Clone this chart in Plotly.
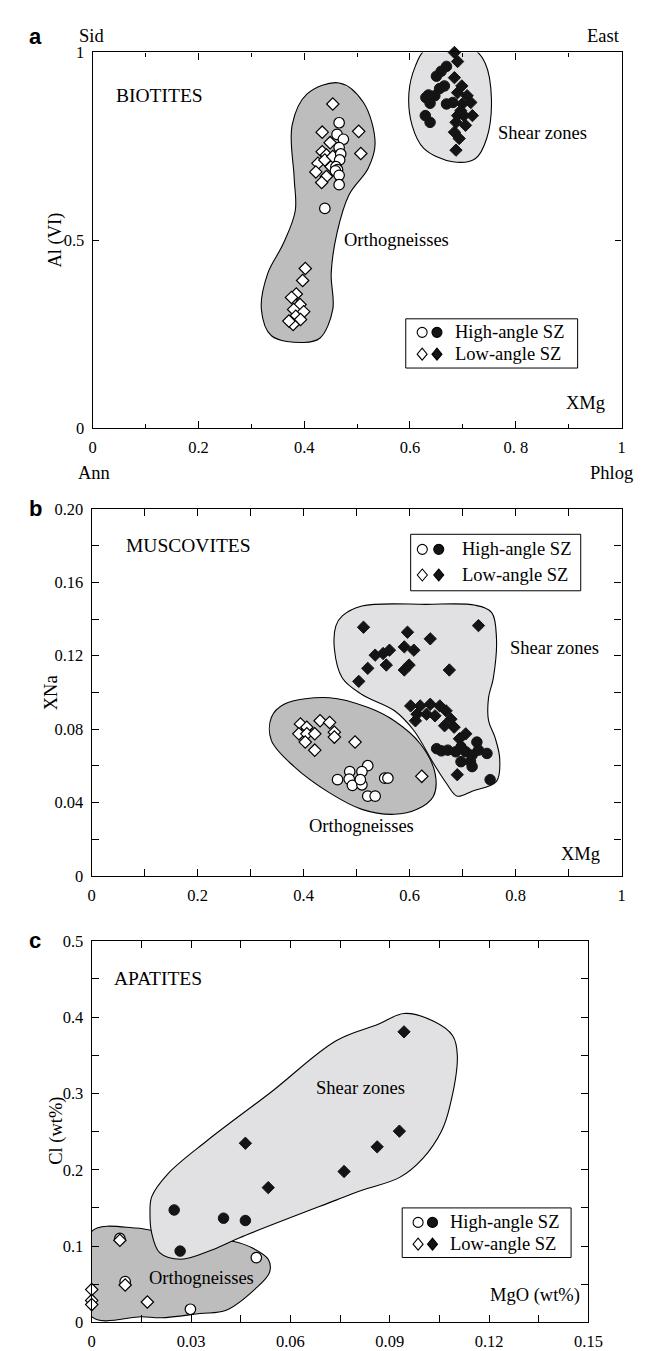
import plotly.graph_objects as go

W, H = 646, 1351
SERIF = "Liberation Serif"
INK = "#141414"

# ---------------- data: panel a (biotites) ----------------
a_xtickvals = [0, 0.2, 0.4, 0.6, 0.8, 1]
a_xticktext = ["0", "0.2", "0.4", "0.6", "0. 8", "1"]
a_ytickvals = [0, 0.5, 1]
a_yticktext = ["0", "0.5", "1"]

a_orth_circ_x = [0.466, 0.462, 0.474, 0.466, 0.469, 0.467, 0.460, 0.463, 0.459, 0.466, 0.466, 0.439]
a_orth_circ_y = [0.813, 0.782, 0.769, 0.747, 0.730, 0.714, 0.696, 0.688, 0.685, 0.673, 0.648, 0.585]
a_orth_diam_x = [0.454, 0.434, 0.503, 0.507, 0.449, 0.434, 0.442, 0.426, 0.439, 0.422, 0.442, 0.433, 0.451, 0.454,
                 0.402, 0.397, 0.385, 0.376, 0.392, 0.380, 0.399, 0.384, 0.393, 0.374, 0.379, 0.371]
a_orth_diam_y = [0.863, 0.788, 0.790, 0.731, 0.760, 0.736, 0.727, 0.705, 0.714, 0.682, 0.670, 0.654, 0.696, 0.723,
                 0.425, 0.393, 0.357, 0.348, 0.329, 0.316, 0.310, 0.298, 0.289, 0.283, 0.276, 0.285]
a_sz_circ_x = [0.669, 0.659, 0.650, 0.665, 0.656, 0.635, 0.630, 0.647, 0.638, 0.669, 0.629, 0.638, 0.681]
a_sz_circ_y = [0.963, 0.950, 0.937, 0.911, 0.904, 0.887, 0.880, 0.885, 0.865, 0.863, 0.832, 0.814, 0.867]
a_sz_diam_x = [0.684, 0.690, 0.684, 0.698, 0.690, 0.708, 0.715, 0.699, 0.718, 0.702, 0.690, 0.705, 0.687, 0.684,
               0.693, 0.687, 0.696]
a_sz_diam_y = [1.000, 0.976, 0.933, 0.911, 0.893, 0.885, 0.867, 0.863, 0.832, 0.832, 0.832, 0.806, 0.814, 0.788,
               0.771, 0.740, 0.845]
a_orth_env_x = [0.466, 0.512, 0.534, 0.521, 0.485, 0.462, 0.451, 0.454, 0.430, 0.399, 0.338, 0.319, 0.331, 0.360,
                0.383, 0.381, 0.377, 0.405, 0.466]
a_orth_env_y = [0.919, 0.867, 0.758, 0.692, 0.622, 0.520, 0.412, 0.316, 0.240, 0.228, 0.246, 0.316, 0.412, 0.490,
                0.578, 0.666, 0.806, 0.889, 0.919]
a_sz_env_x = [0.675, 0.721, 0.742, 0.754, 0.745, 0.724, 0.681, 0.626, 0.604, 0.598, 0.610, 0.629, 0.675]
a_sz_env_y = [1.007, 1.007, 0.972, 0.876, 0.771, 0.718, 0.709, 0.745, 0.806, 0.893, 0.963, 1.007, 1.007]

# ---------------- data: panel b (muscovites) ----------------
b_xtickvals = [0, 0.2, 0.4, 0.6, 0.8, 1]
b_xticktext = ["0", "0.2", "0.4", "0.6", "0.8", "1"]
b_ytickvals = [0, 0.04, 0.08, 0.12, 0.16, 0.20]
b_yticktext = ["0", "0.04", "0.08", "0.12", "0.16", "0.20"]

b_orth_diam_x = [0.394, 0.406, 0.431, 0.449, 0.391, 0.406, 0.421, 0.458, 0.458, 0.403, 0.497, 0.421, 0.623]
b_orth_diam_y = [0.0828, 0.0810, 0.0845, 0.0836, 0.0774, 0.0774, 0.0774, 0.0783, 0.0756, 0.0729, 0.0729, 0.0685, 0.0542]
b_orth_circ_x = [0.521, 0.510, 0.487, 0.464, 0.486, 0.492, 0.510, 0.507, 0.553, 0.559, 0.521, 0.535]
b_orth_circ_y = [0.0600, 0.0568, 0.0568, 0.0524, 0.0527, 0.0493, 0.0496, 0.0524, 0.0532, 0.0532, 0.0434, 0.0434]
b_sz_diam_x = [0.513, 0.730, 0.596, 0.639, 0.590, 0.608, 0.562, 0.550, 0.535, 0.556, 0.599, 0.590, 0.521, 0.675, 0.504,
               0.602, 0.620, 0.639, 0.657, 0.669, 0.614, 0.632, 0.648, 0.678, 0.611, 0.666, 0.684, 0.706, 0.694, 0.690]
b_sz_diam_y = [0.1355, 0.1364, 0.1328, 0.1292, 0.1248, 0.1230, 0.1230, 0.1212, 0.1203, 0.1149, 0.1149, 0.1122, 0.1131,
               0.1122, 0.1060, 0.0926, 0.0926, 0.0935, 0.0926, 0.0899, 0.0881, 0.0881, 0.0872, 0.0854, 0.0845, 0.0818,
               0.0810, 0.0774, 0.0747, 0.0551]
b_sz_circ_x = [0.651, 0.660, 0.672, 0.687, 0.697, 0.706, 0.727, 0.730, 0.746, 0.718, 0.697, 0.715, 0.718, 0.752]
b_sz_circ_y = [0.0693, 0.0681, 0.0685, 0.0676, 0.0702, 0.0676, 0.0729, 0.0685, 0.0667, 0.0658, 0.0622, 0.0622,
               0.0595, 0.0524]
b_sz_env_x = [0.510, 0.632, 0.724, 0.755, 0.764, 0.758, 0.749, 0.749, 0.761, 0.770, 0.764, 0.718, 0.690, 0.669, 0.645,
              0.608, 0.571, 0.510, 0.473, 0.458, 0.461, 0.473, 0.510]
b_sz_env_y = [0.1471, 0.1480, 0.1475, 0.1435, 0.1292, 0.1078, 0.0971, 0.0846, 0.0756, 0.0640, 0.0515, 0.0461, 0.0434,
              0.0506, 0.0613, 0.0792, 0.0901, 0.0988, 0.1078, 0.1239, 0.1364, 0.1417, 0.1471]
b_orth_env_x = [0.363, 0.449, 0.522, 0.571, 0.620, 0.648, 0.645, 0.614, 0.571, 0.510, 0.449, 0.382, 0.339, 0.339, 0.363]
b_orth_env_y = [0.0935, 0.0971, 0.0917, 0.0845, 0.0720, 0.0560, 0.0434, 0.0362, 0.0335, 0.0362, 0.0452, 0.0595,
                0.0738, 0.0863, 0.0935]

# ---------------- data: panel c (apatites) ----------------
c_xtickvals = [0, 0.03, 0.06, 0.09, 0.12, 0.15]
c_xticktext = ["0", "0.03", "0.06", "0.09", "0.12", "0.15"]
c_ytickvals = [0, 0.1, 0.2, 0.3, 0.4, 0.5]
c_yticktext = ["0", "0.1", "0.2", "0.3", "0.4", "0.5"]

c_orth_diam_x = [0.0, 0.0, 0.0, 0.0085, 0.0101, 0.0168]
c_orth_diam_y = [0.043, 0.0288, 0.0233, 0.1076, 0.049, 0.0267]
c_orth_circ_x = [0.0101, 0.0298, 0.0497, 0.0085]
c_orth_circ_y = [0.0534, 0.0172, 0.0849, 0.110]
c_sz_circ_x = [0.0249, 0.0267, 0.0398, 0.0464]
c_sz_circ_y = [0.1473, 0.0934, 0.1365, 0.1335]
c_sz_diam_x = [0.0464, 0.0533, 0.0762, 0.0862, 0.0929, 0.0943]
c_sz_diam_y = [0.2347, 0.1766, 0.1977, 0.2300, 0.2506, 0.3807]
c_orth_env_x = [0.0, 0.0132, 0.0171, 0.030, 0.0425, 0.0484, 0.0533, 0.0537, 0.0494, 0.0406, 0.0327, 0.021, 0.0151,
                0.0, 0.0]
c_orth_env_y = [0.1193, 0.1236, 0.1214, 0.112, 0.1063, 0.0978, 0.0827, 0.0655, 0.0439, 0.0159, 0.0116, 0.006, 0.0074,
                0.0074, 0.1193]
c_sz_env_x = [0.0181, 0.023, 0.0347, 0.0543, 0.0738, 0.0865, 0.0943, 0.1031, 0.109, 0.1104, 0.108, 0.1056, 0.100,
              0.0930, 0.0816, 0.0738, 0.0445, 0.0367, 0.0269, 0.0205, 0.0181, 0.0176, 0.0181]
c_sz_env_y = [0.1645, 0.1947, 0.2377, 0.3023, 0.3691, 0.3906, 0.4048, 0.3949, 0.3756, 0.3497, 0.2808, 0.2506, 0.215,
              0.190, 0.1731, 0.1602, 0.1107, 0.0956, 0.0827, 0.0913, 0.1172, 0.143, 0.1645]

ORTH_FILL = "#bdbdbd"
SZ_FILL = "#e1e1e3"

fig = go.Figure()


def envelope(x, y, fill, xa, ya):
    fig.add_trace(go.Scatter(x=x, y=y, mode="lines", fill="toself", fillcolor=fill,
                             line=dict(color="black", width=1.1, shape="spline", smoothing=1.0),
                             xaxis=xa, yaxis=ya, hoverinfo="skip", showlegend=False))


def points(x, y, symbol, filled, xa, ya):
    size = 10.5 if symbol == "circle" else 9.5
    if filled:
        mk = dict(symbol=symbol, size=size, color=INK, line=dict(color=INK, width=1))
    else:
        mk = dict(symbol=symbol, size=size, color="white", line=dict(color="black", width=1.2))
    fig.add_trace(go.Scatter(x=x, y=y, mode="markers", marker=mk, cliponaxis=False,
                             xaxis=xa, yaxis=ya, showlegend=False))


# panel a
envelope(a_orth_env_x, a_orth_env_y, ORTH_FILL, "x", "y")
envelope(a_sz_env_x, a_sz_env_y, SZ_FILL, "x", "y")
points(a_orth_diam_x, a_orth_diam_y, "diamond", False, "x", "y")
points(a_orth_circ_x, a_orth_circ_y, "circle", False, "x", "y")
points(a_sz_circ_x, a_sz_circ_y, "circle", True, "x", "y")
points(a_sz_diam_x, a_sz_diam_y, "diamond", True, "x", "y")
# panel b
envelope(b_sz_env_x, b_sz_env_y, SZ_FILL, "x2", "y2")
envelope(b_orth_env_x, b_orth_env_y, ORTH_FILL, "x2", "y2")
points(b_orth_diam_x, b_orth_diam_y, "diamond", False, "x2", "y2")
points(b_orth_circ_x, b_orth_circ_y, "circle", False, "x2", "y2")
points(b_sz_diam_x, b_sz_diam_y, "diamond", True, "x2", "y2")
points(b_sz_circ_x, b_sz_circ_y, "circle", True, "x2", "y2")
# panel c
envelope(c_orth_env_x, c_orth_env_y, ORTH_FILL, "x3", "y3")
envelope(c_sz_env_x, c_sz_env_y, SZ_FILL, "x3", "y3")
points(c_orth_circ_x, c_orth_circ_y, "circle", False, "x3", "y3")
points(c_orth_diam_x, c_orth_diam_y, "diamond", False, "x3", "y3")
points(c_sz_circ_x, c_sz_circ_y, "circle", True, "x3", "y3")
points(c_sz_diam_x, c_sz_diam_y, "diamond", True, "x3", "y3")


def xdom(l, r):
    return [l / W, r / W]


def ydom(t, b):
    return [1 - b / H, 1 - t / H]


TICKFONT = dict(family=SERIF, size=16.5, color="black")


def axis(dom, rng, tv, tt, minor_vals, anchor, ticklen=7, minor_len=4):
    d = dict(domain=dom, range=rng, tickvals=tv, ticktext=tt, anchor=anchor,
             showline=True, linecolor="black", linewidth=1.2, mirror="ticks",
             ticks="inside", ticklen=ticklen, tickwidth=1, tickcolor="black",
             showgrid=False, zeroline=False, tickfont=TICKFONT, ticklabelstandoff=4)
    if minor_vals:
        d["minor"] = dict(tickvals=minor_vals, ticks="inside", ticklen=minor_len, tickwidth=1, tickcolor="black")
    return d


fig.update_layout(
    width=W, height=H, margin=dict(l=0, r=0, t=0, b=0),
    paper_bgcolor="white", plot_bgcolor="white", showlegend=False,
    xaxis=axis(xdom(83, 627), [0, 1], a_xtickvals, a_xticktext, [0.1, 0.3, 0.5, 0.7, 0.9], "y", 7, 4),
    yaxis=axis(ydom(36, 417), [0, 1], a_ytickvals, a_yticktext, None, "x", 6, 4),
    xaxis2=axis(xdom(82, 627), [0, 1], b_xtickvals, b_xticktext, [0.1, 0.3, 0.5, 0.7, 0.9], "y2", 7, 7),
    yaxis2=axis(ydom(499, 871), [0, 0.2], b_ytickvals, b_yticktext, [0.02, 0.06, 0.10, 0.14, 0.18], "x2", 7, 7),
    xaxis3=axis(xdom(82, 593), [0, 0.15], c_xtickvals, c_xticktext,
                [0.015, 0.045, 0.075, 0.105, 0.135], "y3", 7, 7),
    yaxis3=axis(ydom(937, 1324), [0, 0.5], c_ytickvals, c_yticktext, [0.05, 0.15, 0.25, 0.35, 0.45], "x3", 7, 7),
)

ann = []


def text(t, x, y, xref, yref, size=18.5, xanchor="left", yanchor="middle", angle=0, bold=False, family=SERIF):
    ann.append(dict(text=("<b>%s</b>" % t) if bold else t, x=x, y=y, xref=xref, yref=yref, showarrow=False,
                    xanchor=xanchor, yanchor=yanchor, textangle=angle,
                    font=dict(family=family, size=size, color="black")))


# panel a texts
text("BIOTITES", 0.04, 0.885, "x", "y", size=19.5)
text("Shear zones", 0.762, 0.785, "x", "y")
text("Orthogneisses", 0.472, 0.50, "x", "y")
text("XMg", 0.972, 0.066, "x", "y", xanchor="right")
text("Al (VI)", 45 / W, 1 - 226 / H, "paper", "paper", angle=-90, xanchor="center")
text("Sid", 82 / W, 1 - 19 / H, "paper", "paper", xanchor="center")
text("East", 608 / W, 1 - 19 / H, "paper", "paper", xanchor="center")
text("Ann", 84 / W, 1 - 463 / H, "paper", "paper", xanchor="center")
text("Phlog", 617 / W, 1 - 463 / H, "paper", "paper", xanchor="center")
text("a", 24 / W, 1 - 20 / H, "paper", "paper", size=22, xanchor="center", bold=True, family="Liberation Sans")
# panel b texts
text("MUSCOVITES", 0.06, 0.18, "x2", "y2", size=19.5)
text("Shear zones", 0.785, 0.124, "x2", "y2")
text("Orthogneisses", 0.51, 0.027, "x2", "y2", xanchor="center")
text("XMg", 0.963, 0.012, "x2", "y2", xanchor="right")
text("XNa", 40 / W, 1 - 685 / H, "paper", "paper", angle=-90, xanchor="center")
text("b", 24 / W, 1 - 499 / H, "paper", "paper", size=22, xanchor="center", bold=True, family="Liberation Sans")
# panel c texts
text("APATITES", 0.006, 0.45, "x3", "y3", size=19.5)
text("Shear zones", 0.0813, 0.307, "x3", "y3", xanchor="center")
text("Orthogneisses", 0.033, 0.058, "x3", "y3", xanchor="center")
text("MgO (wt%)", 0.148, 0.035, "x3", "y3", xanchor="right")
text("Cl (wt%)", 45 / W, 1 - 1130 / H, "paper", "paper", angle=-90, xanchor="center")
text("c", 24 / W, 1 - 937 / H, "paper", "paper", size=22, xanchor="center", bold=True, family="Liberation Sans")

shapes = []
LEG_ROWS = ["High-angle SZ", "Low-angle SZ"]


def legend(xa, ya, box, sym_x, text_x, rows_y):
    xr, yr = xa + " domain", ya + " domain"
    shapes.append(dict(type="rect", xref=xr, yref=yr, x0=box[0], x1=box[1], y0=box[2], y1=box[3],
                       line=dict(color="black", width=1), fillcolor="white", layer="above"))
    for i, (label, ry) in enumerate(zip(LEG_ROWS, rows_y)):
        for j, sx in enumerate(sym_x):
            fill = "white" if j == 0 else INK
            base = dict(xref=xr, yref=yr, xsizemode="pixel", ysizemode="pixel", xanchor=sx, yanchor=ry,
                        line=dict(color="black", width=1.1), fillcolor=fill, layer="above")
            if i == 0:
                shapes.append(dict(type="circle", x0=-5, x1=5, y0=-5, y1=5, **base))
            else:
                shapes.append(dict(type="path", path="M 0 6 L 5 0 L 0 -6 L -5 0 Z", **base))
        text(label, text_x, ry, xr, yr)


legend("x", "y", (0.592, 0.917, 0.16, 0.291), (0.623, 0.651), 0.682, (0.255, 0.197))
legend("x2", "y2", (0.602, 0.923, 0.777, 0.931), (0.624, 0.655), 0.695, (0.89, 0.82))
legend("x3", "y3", (0.625, 0.965, 0.17, 0.30), (0.657, 0.686), 0.718, (0.262, 0.205))

fig.update_layout(annotations=ann, shapes=shapes)
fig.write_html("out.html")
